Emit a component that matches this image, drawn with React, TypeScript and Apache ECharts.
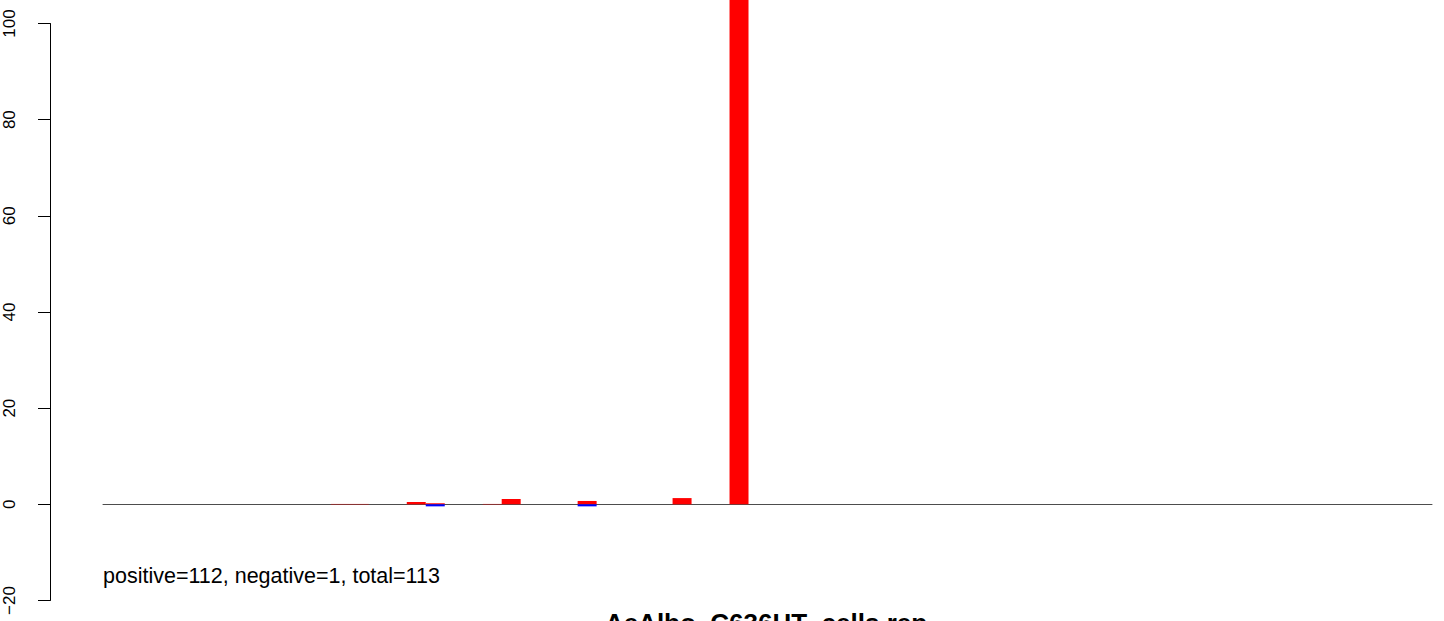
import React, { useEffect, useRef } from "react";
import * as echarts from "echarts";

// 70 bar positions (no tick labels are drawn on the x axis)
const categories: string[] = Array.from({ length: 70 }, (_, i) => String(i + 1));

// non-zero values, by bar index
const positiveIdx = [12, 13, 16, 17, 20, 21, 25, 30, 33];
const positiveVal = [0.08, 0.08, 0.48, 0.22, 0.08, 1.1, 0.7, 1.3, 140];
const negativeIdx = [17, 25];
const negativeVal = [-0.42, -0.42];

const yTicks = [-20, 0, 20, 40, 60, 80, 100];
const subText = "positive=112, negative=1, total=113";
const mainTitle = "AeAlbo_C636HT_cells.rep";

const fill = (idx: number[], val: number[]) => {
  const arr: number[] = categories.map(() => 0);
  idx.forEach((k, j) => (arr[k] = val[j]));
  return arr;
};

const FONT = "'Liberation Sans', Arial, Helvetica, sans-serif";

export default function App() {
  const ref = useRef<HTMLDivElement>(null);
  useEffect(() => {
    if (!ref.current) return;
    const chart = echarts.init(ref.current, undefined, { renderer: "svg" });
    chart.setOption({
      animation: false,
      backgroundColor: "#ffffff",
      grid: { left: 103, right: 12, top: 23.5, bottom: 20.5, containLabel: false },
      xAxis: {
        type: "category",
        data: categories,
        axisLine: { onZero: true, lineStyle: { color: "#4d4d4d", width: 1 } },
        axisTick: { show: false },
        axisLabel: { show: false },
        splitLine: { show: false },
      },
      yAxis: {
        type: "value",
        min: yTicks[0],
        max: yTicks[yTicks.length - 1],
        interval: 20,
        offset: 53,
        axisLine: { show: true, lineStyle: { color: "#000", width: 1 } },
        axisTick: { show: true, length: 12, lineStyle: { color: "#000", width: 1 } },
        axisLabel: {
          rotate: 90,
          margin: 32,
          fontSize: 17,
          color: "#000",
          fontFamily: FONT,
          formatter: (v: number) => String(v).replace("-", "\u2212"),
        },
        splitLine: { show: false },
      },
      series: [
        {
          type: "bar",
          stack: "s",
          data: fill(positiveIdx, positiveVal),
          barCategoryGap: "0%",
          itemStyle: { color: "#ff0000" },
          clip: false,
        },
        {
          type: "bar",
          stack: "s",
          data: fill(negativeIdx, negativeVal),
          barCategoryGap: "0%",
          itemStyle: { color: "#0000ff" },
          clip: false,
        },
      ],
      graphic: [
        {
          type: "text",
          x: 103,
          y: 587,
          style: {
            text: subText,
            fill: "#000",
            font: `21.5px ${FONT}`,
            align: "left",
            textAlign: "left",
            verticalAlign: "bottom",
            textVerticalAlign: "bottom",
          },
        },
        {
          type: "text",
          x: 766,
          y: 623,
          style: {
            text: mainTitle,
            fill: "#000",
            font: `bold 26px ${FONT}`,
            align: "center",
            textAlign: "center",
            verticalAlign: "middle",
            textVerticalAlign: "middle",
          },
        },
      ],
    });
    return () => chart.dispose();
  }, []);
  return (
    <div
      ref={ref}
      style={{ position: "absolute", left: 0, top: 0, width: 1444, height: 621 }}
    />
  );
}
